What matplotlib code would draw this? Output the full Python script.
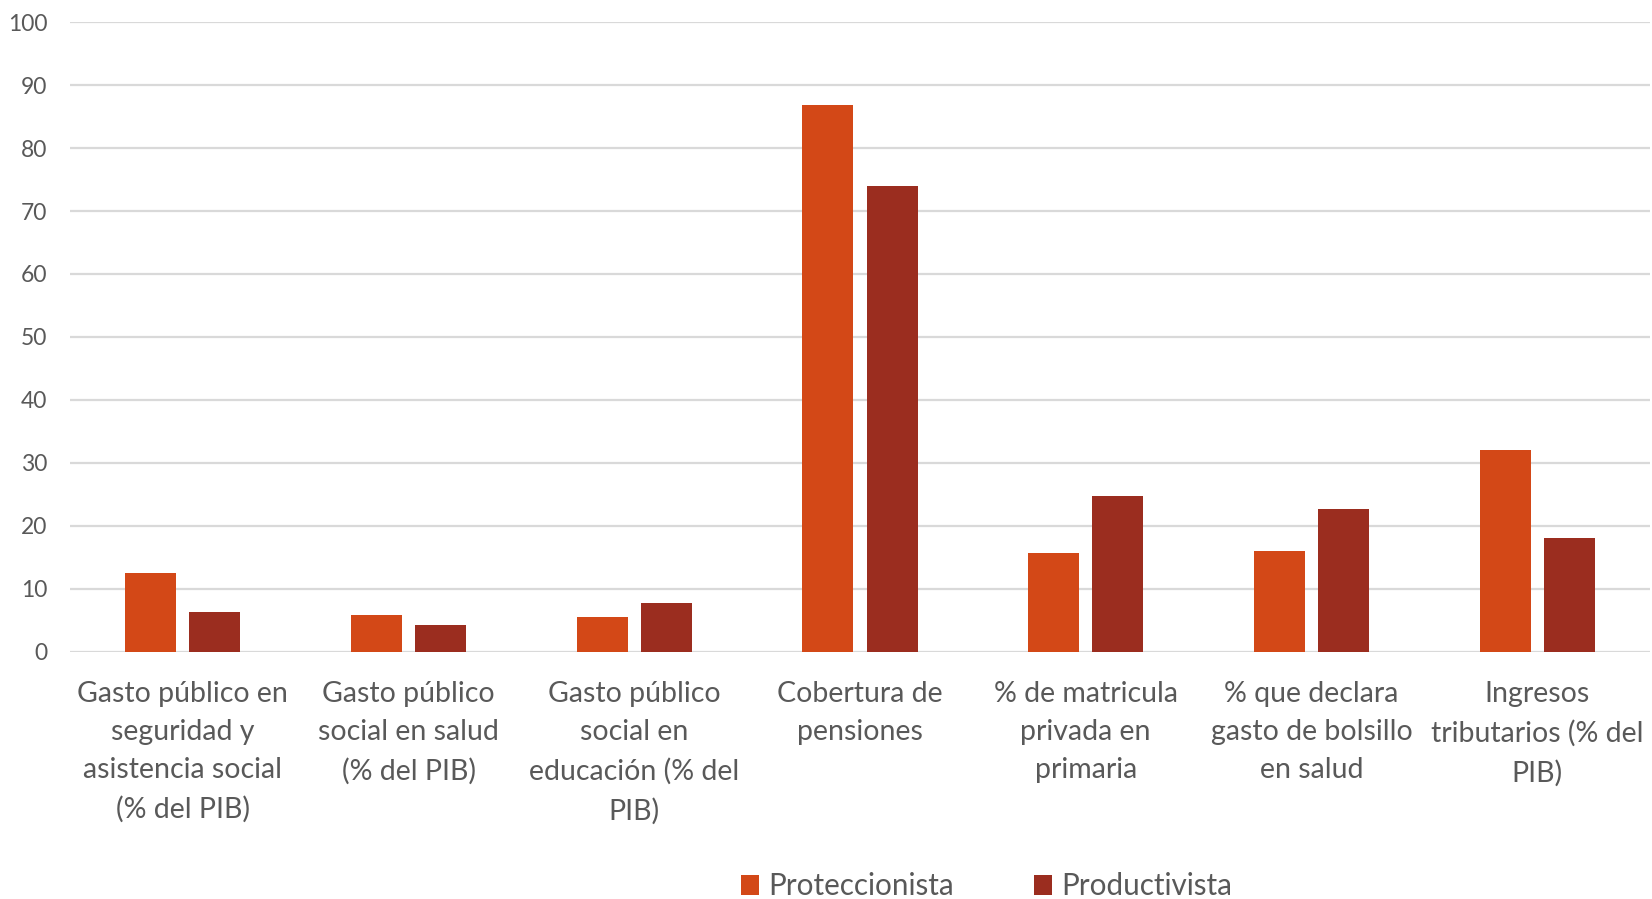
import numpy as np
import matplotlib
matplotlib.use("Agg")
import matplotlib.pyplot as plt

# ── Data ───────────────────────────────────────────────────────────────────────

categories = [
    "Gasto público en\nseguridad y\nasistencia social\n(% del PIB)",
    "Gasto público\nsocial en salud\n(% del PIB)",
    "Gasto público\nsocial en\neducación (% del\nPIB)",
    "Cobertura de\npensiones",
    "% de matricula\nprivada en\nprimaria",
    "% que declara\ngasto de bolsillo\nen salud",
    "Ingresos\ntributarios (% del\nPIB)",
]
proteccionista = [12.5, 5.8, 5.6, 86.9, 15.7, 16.0, 32.0]
productivista  = [6.4, 4.3, 7.7, 73.9, 24.7, 22.7, 18.1]
y_ticks = [0, 10, 20, 30, 40, 50, 60, 70, 80, 90, 100]

# ── Style ──────────────────────────────────────────────────────────────────────

ORANGE = "#D34817"
DARK   = "#9B2D1F"
TEXT   = "#595959"
GRID   = "#D9D9D9"

plt.rcParams["font.family"] = ["Lato", "DejaVu Sans"]

fig = plt.figure(figsize=(16.52, 8.99), dpi=100)
ax = fig.add_axes([0.0424, 0.2748, 0.9564, 0.7007])

x = np.arange(len(categories))
w = 0.226
off = 0.142
ax.bar(x - off, proteccionista, width=w, color=ORANGE, label="Proteccionista", zorder=3)
ax.bar(x + off, productivista, width=w, color=DARK, label="Productivista", zorder=3)

ax.set_xlim(-0.5, len(categories) - 0.5)
ax.set_ylim(0, 100)
ax.set_yticks(y_ticks)
ax.set_yticklabels([str(t) for t in y_ticks], fontsize=16.5, color=TEXT)
ax.set_xticks(x)
ax.set_xticklabels(categories, fontsize=20.5, color=TEXT, linespacing=1.58)

ax.tick_params(axis="y", length=0, pad=16.5)
ax.tick_params(axis="x", length=0, pad=21)
ax.grid(axis="y", color=GRID, linewidth=1.6, zorder=0)
for s in ax.spines.values():
    s.set_visible(False)

fig.legend(loc="center", bbox_to_anchor=(0.597, 0.014), ncol=2, frameon=False,
           fontsize=21.3, labelcolor=TEXT, handlelength=0.62, handleheight=0.62,
           handletextpad=0.3, columnspacing=2.7)

fig.savefig("out.png", dpi=100)
